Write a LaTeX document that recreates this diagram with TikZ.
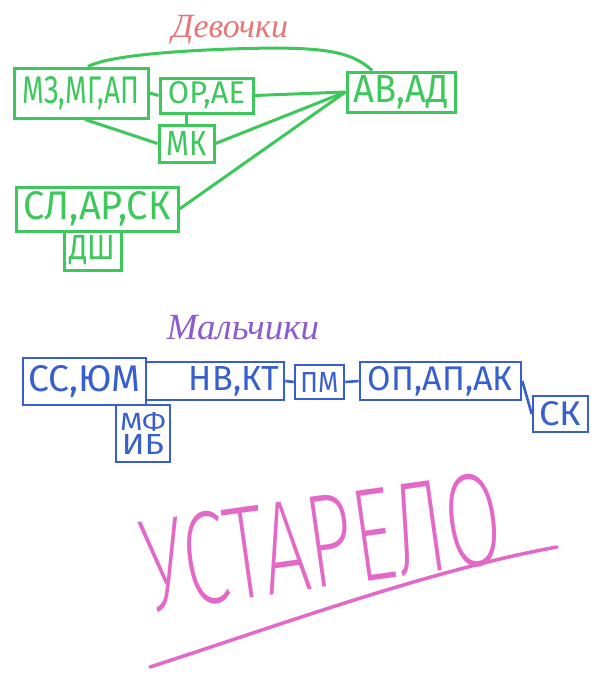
\documentclass[tikz,border=0pt]{standalone}
\usepackage{fontspec}
\setmainfont{Fira Sans}
\newfontfamily\cursivefont{Liberation Serif}
\newfontfamily\thinfont{Fira Sans ExtraLight}
\usetikzlibrary{calc}
\definecolor{gcol}{RGB}{60,200,90}
\definecolor{bcol}{RGB}{55,95,205}
\definecolor{rcol}{RGB}{232,118,118}
\definecolor{pcol}{RGB}{140,90,210}
\definecolor{mcol}{RGB}{228,104,200}
\newcommand{\fitlbl}[3]{\resizebox{#1pt}{#2pt}{#3}}
\tikzset{
  x=1pt, y=-1pt,
  gbox/.style={draw=gcol, text=gcol, line width=3pt, inner sep=0pt},
  bbox/.style={draw=bcol, text=bcol, line width=2.6pt, inner sep=0pt},
  glink/.style={draw=gcol, line width=3pt},
  blink/.style={draw=bcol, line width=2.6pt},
}
\begin{document}
\begin{tikzpicture}
\useasboundingbox[fill=white] (0,0) rectangle (592,675);

% titles
\node[text=rcol, inner sep=0pt] (tgirls) at (230,30) {\cursivefont\itshape\resizebox{116pt}{!}{Девочки}};
\node[text=pcol, inner sep=0pt] (tboys) at (243,328) {\cursivefont\itshape\resizebox{152pt}{!}{Мальчики}};

% green boxes
\node[gbox, minimum width=134pt, minimum height=50pt] (A) at (81,93) {\fitlbl{117}{27}{МЗ,МГ,АП}};
\node[gbox, minimum width=93pt, minimum height=35pt] (B) at (206.5,95.5) {\fitlbl{77}{22}{ОР,АЕ}};
\node[gbox, minimum width=55pt, minimum height=37pt] (C) at (186.5,143.5) {\fitlbl{40}{24}{МК}};
\node[gbox, minimum width=108pt, minimum height=40pt] (D) at (401,92) {\fitlbl{95}{27}{АВ,АД}};
\node[gbox, minimum width=162pt, minimum height=44pt] (E) at (97,209) {\fitlbl{147}{28}{СЛ,АР,СК}};
\node[gbox, minimum width=57pt, minimum height=39pt] (F) at (92.5,250.5) {\fitlbl{46}{24}{ДШ}};

% green connectors
\draw[glink] (A.east) -- (B.west);
\draw[glink] (C.north) -- (C.north |- B.south);
\draw[glink] ($(A.south west)!0.53!(A.south east)$) -- (C.west);
\draw[glink] ($(A.south west)!0.48!(A.south east)$) -- ($(A.south west)!0.48!(A.south east)$ |- E.north);
\draw[glink] (B.east) -- (D.west);
\draw[glink] (C.east) -- (D.west);
\draw[glink] (E.east) -- (D.west);
\draw[glink] ($(A.north west)!0.55!(A.north east)$) .. controls (105,58) and (150,52) .. (230,49)
   .. controls (320,46) and (350,50) .. ($(D.north west)!0.24!(D.north east)$);

% blue boxes
\node[bbox, minimum width=123pt, minimum height=47pt] (G) at (84.5,381.5) {\fitlbl{112}{26}{СС,ЮМ}};
\node[bbox, minimum width=138pt, minimum height=38pt] (H) at (215,381) {\makebox[138pt][r]{\fitlbl{90}{24}{НВ,КТ}\hspace{5pt}}};
\node[bbox, minimum width=54pt, minimum height=57pt, align=center] (I) at (143,433.5)
   {\fitlbl{46}{18}{МФ}\\[3pt]\fitlbl{42}{20}{ИБ}};
\node[bbox, minimum width=49pt, minimum height=34pt] (J) at (319.5,382) {\fitlbl{38}{20}{ПМ}};
\node[bbox, minimum width=161pt, minimum height=38pt] (K) at (440.5,381) {\fitlbl{145}{24}{ОП,АП,АК}};
\node[bbox, minimum width=55pt, minimum height=36pt] (L) at (560.5,414) {\fitlbl{42}{24}{СК}};

% blue connectors
\draw[blink] (H.east) -- (J.west);
\draw[blink] (J.east) -- (K.west);
\draw[blink] (K.east) -- (L.west);

% stamp
\node[text=mcol, inner sep=0pt, rotate=8] (stamp) at (322,542) {\thinfont\resizebox{362pt}{92pt}{УСТАРЕЛО}};
\draw[mcol, line width=3.5pt, line cap=round] (150,667) .. controls (280,625) and (430,570) .. (557,547);
\end{tikzpicture}
\end{document}
